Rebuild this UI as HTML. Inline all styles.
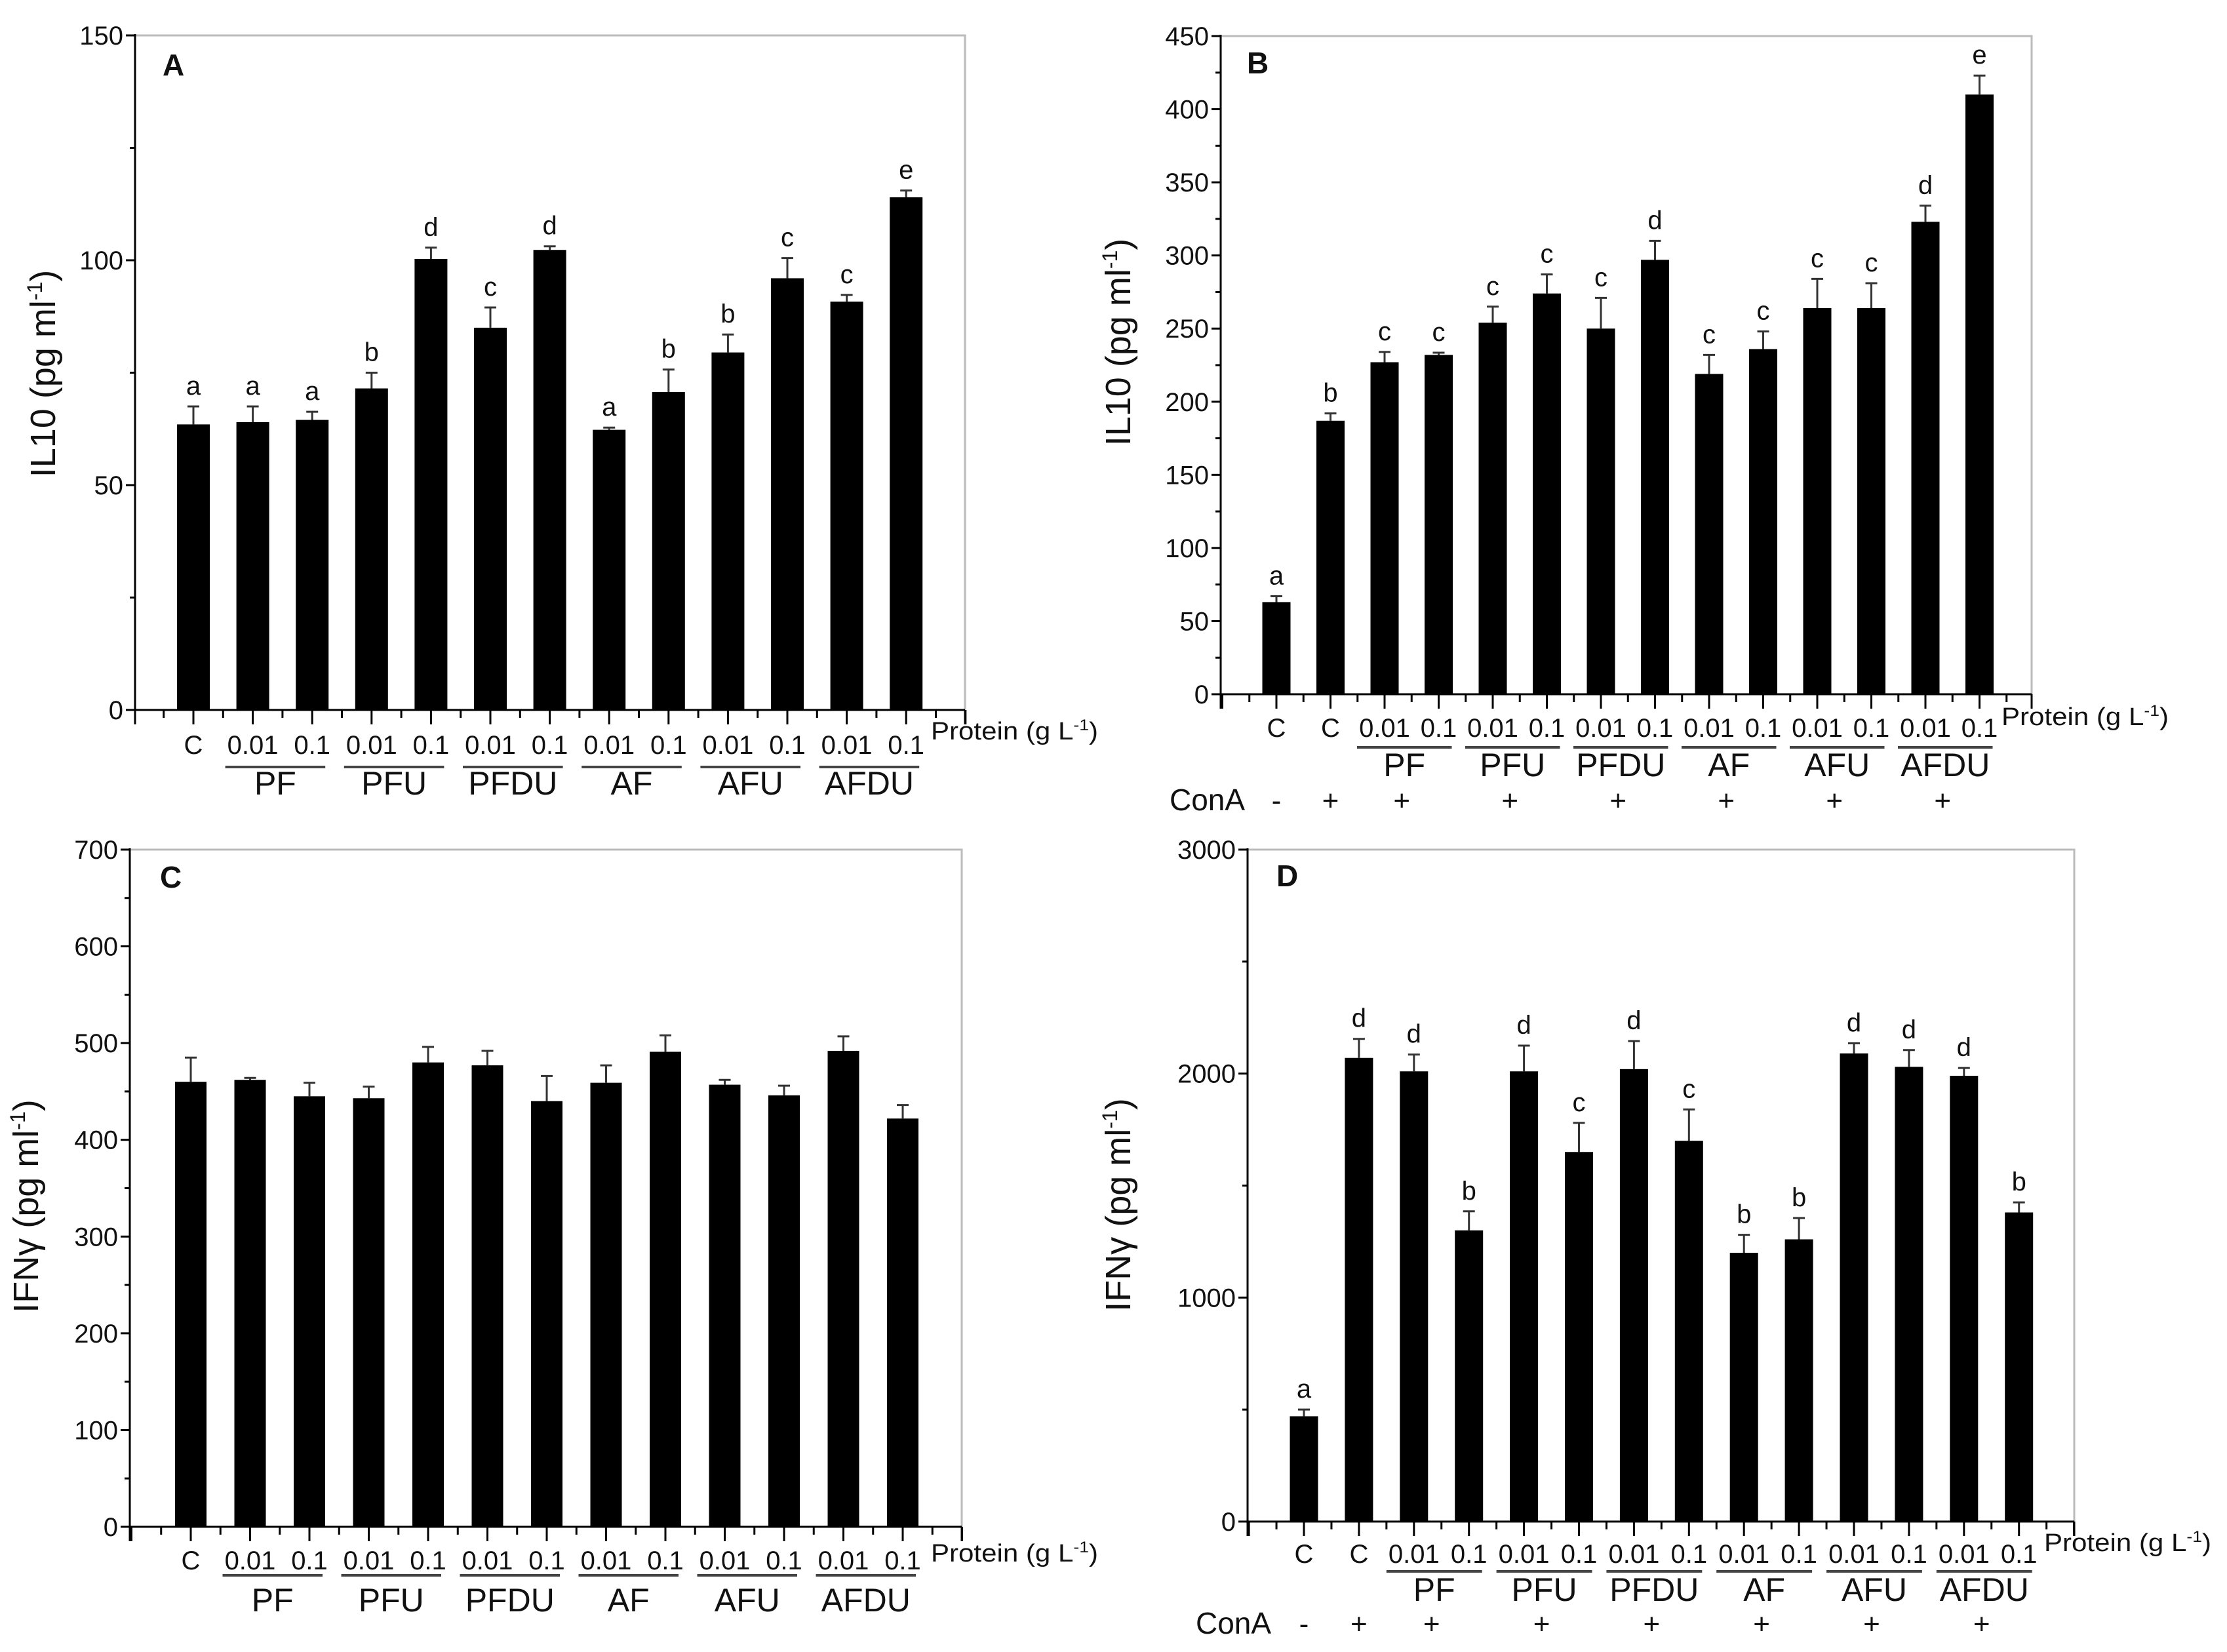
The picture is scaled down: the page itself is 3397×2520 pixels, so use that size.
<!DOCTYPE html>
<html><head><meta charset="utf-8"><style>
html,body{margin:0;padding:0;background:#fff}
svg{display:block}
text{font-family:"Liberation Sans",Arial,sans-serif;fill:#111}
</style></head><body>
<svg id="fig" xmlns="http://www.w3.org/2000/svg" width="3397" height="2520" viewBox="0 0 3397 2520"></svg>
<script>
// ---------- Data ----------
const catsA = ["C","0.01","0.1","0.01","0.1","0.01","0.1","0.01","0.1","0.01","0.1","0.01","0.1"];
const valsA = [63.5,64,64.5,71.5,100.3,85,102.3,62.3,70.7,79.5,96,90.8,114];
const errsA = [4,3.5,1.8,3.5,2.5,4.5,0.8,0.5,5,4,4.5,1.5,1.5];
const letA = ["a","a","a","b","d","c","d","a","b","b","c","c","e"];
const ticksA = [0,50,100,150];

const catsB = ["C","C","0.01","0.1","0.01","0.1","0.01","0.1","0.01","0.1","0.01","0.1","0.01","0.1"];
const valsB = [63,187,227,232,254,274,250,297,219,236,264,264,323,410];
const errsB = [4,5,7,1.5,11,13,21,13,13,12,20,17,11,13];
const letB = ["a","b","c","c","c","c","c","d","c","c","c","c","d","e"];
const ticksB = [0,50,100,150,200,250,300,350,400,450];

const catsC = catsA;
const valsC = [460,462,445,443,480,477,440,459,491,457,446,492,422];
const errsC = [25,2,14,12,16,15,26,18,17,5,10,15,14];
const ticksC = [0,100,200,300,400,500,600,700];

const catsD = catsB;
const valsD = [470,2070,2010,1300,2010,1650,2020,1700,1200,1260,2090,2030,1990,1380];
const errsD = [30,85,75,85,115,130,125,140,80,95,45,75,35,45];
const letD = ["a","d","d","b","d","c","d","c","b","b","d","d","d","b"];
const ticksD = [0,1000,2000,3000];

const groups = ["PF","PFU","PFDU","AF","AFU","AFDU"];
const conaSigns = ["-","+","+","+","+","+","+","+"];

// ---------- Helpers ----------
const NS = "http://www.w3.org/2000/svg";
const svg = document.getElementById("fig");
function el(tag, attrs, parent, txt){
  const e = document.createElementNS(NS, tag);
  for (const k in attrs) e.setAttribute(k, attrs[k]);
  if (txt !== undefined) e.textContent = txt;
  (parent || svg).appendChild(e);
  return e;
}

function panel(cfg){
  const g = el("g", {});
  
  
  const y = v => cfg.y0 - (v / cfg.max) * (cfg.y0 - cfg.top);
  const x = i => cfg.x1 + i * cfg.step;
  const fr = el("path", {d:`M${cfg.ax} ${cfg.top} H${cfg.right} V${cfg.y0}`, stroke:"#bbb", "stroke-width":3, fill:"none"}, g);
  
  
  cfg.vals.forEach((v,i)=>{
    const cx = x(i), top = y(v), et = y(v + cfg.errs[i]);
    const eb = el("line", {x1:cx, x2:cx, y1:top, y2:et, stroke:"#333", "stroke-width":3}, g);
    
    
    const cap = el("line", {x1:cx-9, x2:cx+9, y1:et, y2:et, stroke:"#333", "stroke-width":3}, g);
    
    
    const r = el("rect", {x:cx-cfg.bw/2, y:top, width:cfg.bw, height:cfg.y0-top, fill:"#000"}, g);
    
    
    if (cfg.lets){
      const t = el("text", {x:cx, y:et-18, "font-size":40, "text-anchor":"middle"}, g, cfg.lets[i]);
      
      
    }
  });
  const ya = el("line", {x1:cfg.ax, x2:cfg.ax, y1:cfg.top-2, y2:cfg.y0+2, stroke:"#000", "stroke-width":3}, g);
  
  
  const tks = cfg.ticks;
  for (let v=0; v<=cfg.max+1e-9; v+=cfg.minor){
    const major = tks.includes(v);
    el("line", {x1:cfg.ax-(major?14:8), x2:cfg.ax, y1:y(v), y2:y(v), stroke:"#000", "stroke-width":3}, g);
  }
  tks.forEach(v=>{
    const t = el("text", {x:cfg.ax-18, y:y(v)+14, "font-size":40, "text-anchor":"end"}, g, String(v));
    
    
  });
  const xa = el("line", {x1:cfg.ax, x2:cfg.right, y1:cfg.y0, y2:cfg.y0, stroke:"#000", "stroke-width":3}, g);
  
  
  for (let i=-1.5; x(i) <= cfg.right+1; i+=0.5){
    const xx = x(i);
    if (xx < cfg.ax-1) continue;
    const major = Number.isInteger(i);
    el("line", {x1:xx, x2:xx, y1:cfg.y0, y2:cfg.y0+(major?22:12), stroke:"#000", "stroke-width":3}, g);
  }
  el("line", {x1:cfg.right, x2:cfg.right, y1:cfg.y0, y2:cfg.y0+22, stroke:"#000", "stroke-width":3}, g);
  el("line", {x1:cfg.ax, x2:cfg.ax, y1:cfg.y0, y2:cfg.y0+22, stroke:"#000", "stroke-width":3}, g);
  cfg.cats.forEach((c,i)=>{
    const t = el("text", {x:x(i), y:cfg.catY, "font-size":40, "text-anchor":"middle"}, g, c);
    
    
  });
  groups.forEach((gn,k)=>{
    const i0 = cfg.gStart + 2*k;
    const a = x(i0) - 42, b = x(i0+1) + 20;
    el("line", {x1:a, x2:b, y1:cfg.ulY, y2:cfg.ulY, stroke:"#444", "stroke-width":4}, g);
    const t = el("text", {x:(a+b)/2, y:cfg.grpY, "font-size":50, "text-anchor":"middle"}, g, gn);
    
    
  });
  const p = el("text", {x:cfg.protX, y:cfg.protY, "font-size":38, textLength:255, lengthAdjust:"spacingAndGlyphs"}, g);
  
  
  el("tspan", {}, p, "Protein (g L");
  el("tspan", {dy:-14, "font-size":24}, p, "-1");
  el("tspan", {dy:14}, p, ")");
  const yt = el("text", {x:0, y:0, "font-size":54, "text-anchor":"middle", transform:`translate(${cfg.ytX},${cfg.ytY}) rotate(-90)`}, g);
  
  
  el("tspan", {}, yt, cfg.ytitle + " (pg ml");
  el("tspan", {dy:-20, "font-size":32}, yt, "-1");
  el("tspan", {dy:20}, yt, ")");
  const pl = el("text", {x:cfg.lx, y:cfg.ly, "font-size":46, "font-weight":"bold"}, g, cfg.letter);
  
  
  if (cfg.conaX){
    const ct = el("text", {x:cfg.conaX, y:cfg.conaY, "font-size":46}, g, "ConA");
    
    
    const pos = [x(0), x(1)];
    groups.forEach((_,k)=>pos.push((x(cfg.gStart+2*k)+x(cfg.gStart+2*k+1))/2 - 15));
    conaSigns.forEach((s,k)=>{
      const t = el("text", {x:pos[k], y:cfg.conaY, "font-size":44, "text-anchor":"middle"}, g, s);
      
      
    });
  }
}

panel({name:"panel-a", letter:"A", lx:248, ly:115, cats:catsA, vals:valsA, errs:errsA, lets:letA, ticks:ticksA, minor:25, max:150,
  ax:206, right:1472, top:54, y0:1083, x1:295, step:90.6, bw:50, gStart:1,
  catY:1150, ulY:1170, grpY:1212, protX:1420, protY:1128, ytitle:"IL10", ytX:84, ytY:570});
panel({name:"panel-b", letter:"B", lx:1902, ly:112, cats:catsB, vals:valsB, errs:errsB, lets:letB, ticks:ticksB, minor:25, max:450,
  ax:1862, right:3099, top:55, y0:1059, x1:1947, step:82.5, bw:43, gStart:2,
  catY:1124, ulY:1140, grpY:1184, protX:3053, protY:1106, ytitle:"IL10", ytX:1724, ytY:522,
  conaX:1784, conaY:1236});
panel({name:"panel-c", letter:"C", lx:244, ly:1354, cats:catsC, vals:valsC, errs:errsC, lets:null, ticks:ticksC, minor:50, max:700,
  ax:198, right:1467, top:1296, y0:2329, x1:291, step:90.5, bw:48, gStart:1,
  catY:2394, ulY:2403, grpY:2458, protX:1420, protY:2382, ytitle:"IFNγ", ytX:58, ytY:1840});
panel({name:"panel-d", letter:"D", lx:1947, ly:1352, cats:catsD, vals:valsD, errs:errsD, lets:letD, ticks:ticksD, minor:500, max:3000,
  ax:1903, right:3164, top:1296, y0:2321, x1:1989, step:83.9, bw:43, gStart:2,
  catY:2384, ulY:2397, grpY:2442, protX:3118, protY:2366, ytitle:"IFNγ", ytX:1724, ytY:1838,
  conaX:1824, conaY:2492});
</script>
</body></html>
